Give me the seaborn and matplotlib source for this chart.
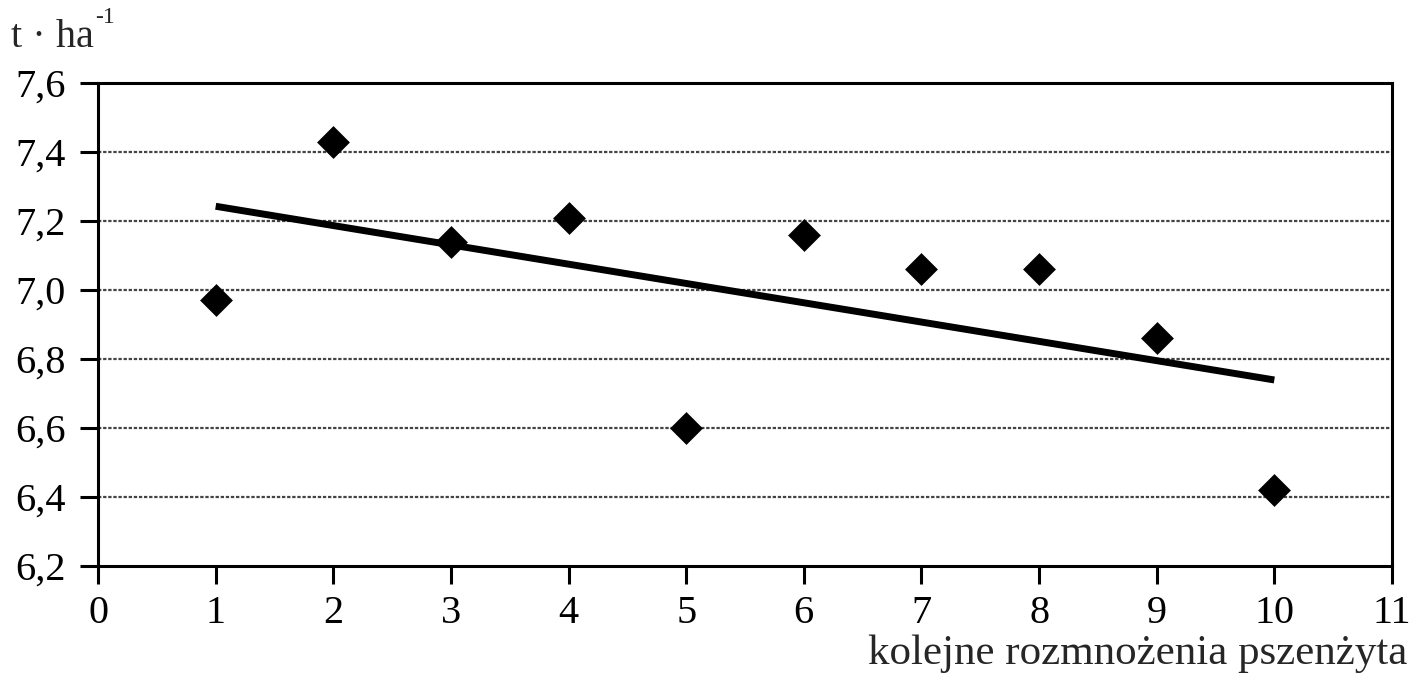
import numpy as np
import pandas as pd
import seaborn as sns
import matplotlib
matplotlib.use("Agg")
import matplotlib.pyplot as plt

# data
rozmnozenia = [1, 2, 3, 4, 5, 6, 7, 8, 9, 10]
plon = [6.97, 7.43, 7.14, 7.21, 6.60, 7.16, 7.06, 7.06, 6.86, 6.42]
y_ticks = [6.2, 6.4, 6.6, 6.8, 7.0, 7.2, 7.4, 7.6]
x_ticks = list(range(0, 12))

sns.set_style("white")
plt.rcParams['font.family'] = ['Liberation Serif', 'DejaVu Serif']

df = pd.DataFrame({"x": rozmnozenia, "y": plon})

fig = plt.figure(figsize=(14.13, 6.9), dpi=100)
ax = fig.add_axes([0.0694, 0.1797, 0.9157, 0.70])

sns.regplot(data=df, x="x", y="y", ax=ax, ci=None, truncate=True,
            marker="D", color="black",
            scatter_kws={"s": 280, "zorder": 4, "linewidths": 0, "alpha": 1},
            line_kws={"lw": 5, "color": "black", "zorder": 3,
                      "solid_capstyle": "butt"})

ax.set_xlim(0, 11)
ax.set_ylim(6.2, 7.6)
ax.set_xticks(x_ticks)
ax.set_xticklabels([str(t) for t in x_ticks])
ax.set_yticks(y_ticks)
ax.set_yticklabels([f"{t:.1f}".replace(".", ",") for t in y_ticks])
ax.set_xlabel("")
ax.set_ylabel("")

for v in y_ticks[1:-1]:
    ax.axhline(v, color="#444444", lw=1.6, ls=(0, (1.5, 0.8)), zorder=1)

for s in ax.spines.values():
    s.set_visible(True)
    s.set_color("black")
    s.set_linewidth(2.2)

ax.tick_params(axis="both", direction="out", length=13, width=2.2,
               colors="black", labelsize=29, bottom=True, left=True)
ax.tick_params(axis="y", pad=10)
ax.tick_params(axis="x", pad=8)

# y unit label with a small superscript
t1 = fig.text(0.008, 0.945, "t · ha", fontsize=29, ha="left", va="center")
fig.canvas.draw()
bb = t1.get_window_extent(fig.canvas.get_renderer())
fig.text(bb.x1 / fig.bbox.width + 0.001, 0.975, "-1", fontsize=17,
         ha="left", va="center")

fig.text(0.996, 0.052, "kolejne rozmnożenia pszenżyta", fontsize=31,
         ha="right", va="center")

fig.savefig("out.png", dpi=100)
